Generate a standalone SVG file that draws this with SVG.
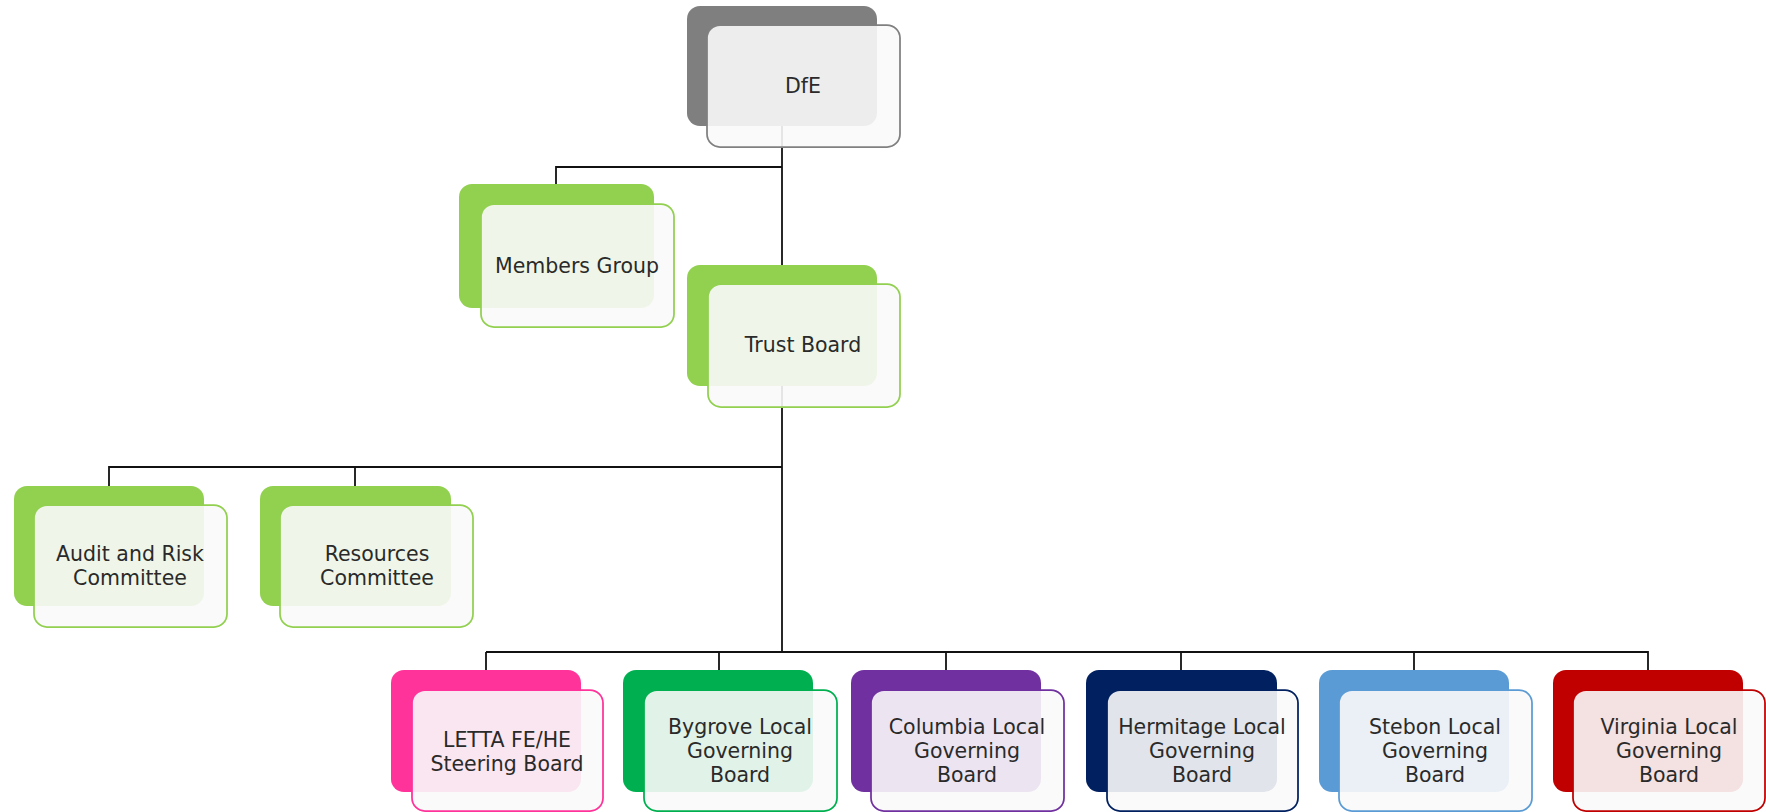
<svg xmlns="http://www.w3.org/2000/svg" width="1766" height="812" viewBox="0 0 1766 812">
<style>
.back{stroke:none}
.front{fill:#fafafa;fill-opacity:0.9;stroke-width:1.75}
.lbl{font-family:"DejaVu Sans","Liberation Sans",sans-serif;font-size:20.5px;fill:#2a2a2a;text-anchor:middle}
.conn{fill:none;stroke:#111;stroke-width:1.8}
</style>
<rect width="1766" height="812" fill="#fff"/>
<g id="connectors" class="conn">
<path d="M782 110 V652"/>
<path d="M782 167 H556 V200"/>
<path d="M782 467 H109 V500"/>
<path d="M355 467 V500"/>
<path d="M486 652 H1648 V690"/>
<path d="M486 652 V690"/>
<path d="M719 652 V690"/>
<path d="M946 652 V690"/>
<path d="M1181 652 V690"/>
<path d="M1414 652 V690"/>
</g>
<g id="dfe">
<rect class="back" x="687" y="6" width="190" height="120" rx="13" fill="#7f7f7f"/>
<rect class="front" x="707" y="25" width="193" height="122" rx="13" stroke="#808080"/>
<text class="lbl" x="803" y="93">DfE</text>
</g>
<g id="members">
<rect class="back" x="459" y="184" width="195" height="124" rx="13" fill="#92d050"/>
<rect class="front" x="481" y="204" width="193" height="123" rx="13" stroke="#92d050"/>
<text class="lbl" x="577" y="273">Members Group</text>
</g>
<g id="trust">
<rect class="back" x="687" y="265" width="190" height="121" rx="13" fill="#92d050"/>
<rect class="front" x="708" y="284" width="192" height="123" rx="13" stroke="#92d050"/>
<text class="lbl" x="803" y="352">Trust Board</text>
</g>
<g id="audit">
<rect class="back" x="14" y="486" width="190" height="120" rx="13" fill="#92d050"/>
<rect class="front" x="34" y="505" width="193" height="122" rx="13" stroke="#92d050"/>
<text class="lbl" x="130" y="561">Audit and Risk</text>
<text class="lbl" x="130" y="585">Committee</text>
</g>
<g id="resources">
<rect class="back" x="260" y="486" width="191" height="120" rx="13" fill="#92d050"/>
<rect class="front" x="280" y="505" width="193" height="122" rx="13" stroke="#92d050"/>
<text class="lbl" x="377" y="561">Resources</text>
<text class="lbl" x="377" y="585">Committee</text>
</g>
<g id="letta">
<rect class="back" x="391" y="670" width="190" height="122" rx="13" fill="#ff3399"/>
<rect class="front" x="412" y="690" width="191" height="121" rx="13" stroke="#ff3399"/>
<text class="lbl" x="507" y="747">LETTA FE/HE</text>
<text class="lbl" x="507" y="771">Steering Board</text>
</g>
<g id="bygrove">
<rect class="back" x="623" y="670" width="190" height="122" rx="13" fill="#00b050"/>
<rect class="front" x="644" y="690" width="193" height="121" rx="13" stroke="#00b050"/>
<text class="lbl" x="740" y="734">Bygrove Local</text>
<text class="lbl" x="740" y="758">Governing</text>
<text class="lbl" x="740" y="782">Board</text>
</g>
<g id="columbia">
<rect class="back" x="851" y="670" width="190" height="122" rx="13" fill="#7030a0"/>
<rect class="front" x="871" y="690" width="193" height="121" rx="13" stroke="#7030a0"/>
<text class="lbl" x="967" y="734">Columbia Local</text>
<text class="lbl" x="967" y="758">Governing</text>
<text class="lbl" x="967" y="782">Board</text>
</g>
<g id="hermitage">
<rect class="back" x="1086" y="670" width="191" height="122" rx="13" fill="#002060"/>
<rect class="front" x="1107" y="690" width="191" height="121" rx="13" stroke="#002060"/>
<text class="lbl" x="1202" y="734">Hermitage Local</text>
<text class="lbl" x="1202" y="758">Governing</text>
<text class="lbl" x="1202" y="782">Board</text>
</g>
<g id="stebon">
<rect class="back" x="1319" y="670" width="190" height="122" rx="13" fill="#5b9bd5"/>
<rect class="front" x="1339" y="690" width="193" height="121" rx="13" stroke="#5b9bd5"/>
<text class="lbl" x="1435" y="734">Stebon Local</text>
<text class="lbl" x="1435" y="758">Governing</text>
<text class="lbl" x="1435" y="782">Board</text>
</g>
<g id="virginia">
<rect class="back" x="1553" y="670" width="190" height="122" rx="13" fill="#c00000"/>
<rect class="front" x="1573" y="690" width="192" height="121" rx="13" stroke="#c00000"/>
<text class="lbl" x="1669" y="734">Virginia Local</text>
<text class="lbl" x="1669" y="758">Governing</text>
<text class="lbl" x="1669" y="782">Board</text>
</g>
</svg>
